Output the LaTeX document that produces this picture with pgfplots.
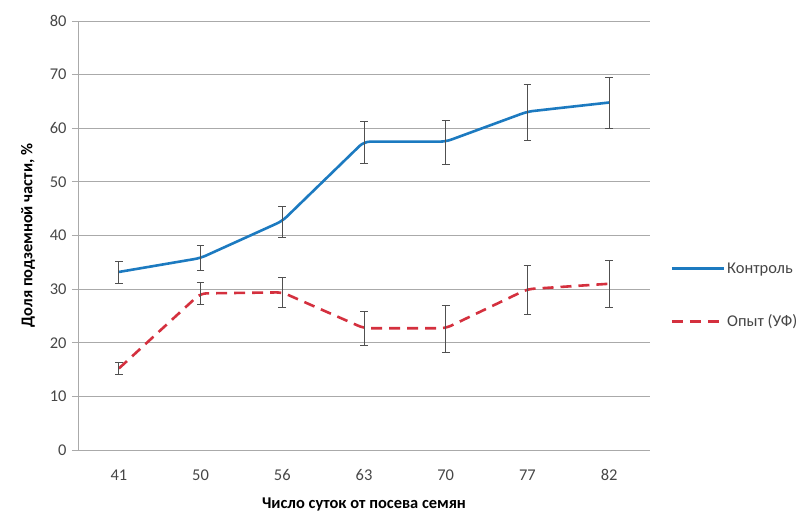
\documentclass[border=0pt]{standalone}
\usepackage{pgfplots}
\pgfplotsset{compat=1.18}
\usepackage{pgfplotstable}
\usepackage{fontspec}
\setmainfont{Carlito}
\definecolor{ctrl}{RGB}{28,122,192}
\definecolor{expc}{RGB}{212,48,62}
\definecolor{txt}{RGB}{70,70,70}
\definecolor{grid}{RGB}{170,170,170}
\definecolor{ebar}{RGB}{80,80,80}
\pgfplotstableread{
x y ep em
0 33.2 1.9 2.2
1 35.8 2.4 2.4
2 42.7 2.8 3.1
3 57.5 3.8 4.0
4 57.5 3.9 4.3
5 63.1 5.1 5.3
6 64.8 4.6 4.8
}\ctrl
\pgfplotstableread{
x y ep em
0 15.2 1.1 1.2
1 29.2 2.0 2.0
2 29.4 2.7 2.8
3 22.7 3.2 3.2
4 22.7 4.2 4.5
5 30.0 4.4 4.8
6 31.0 4.3 4.5
}\expt
\begin{document}
\begin{tikzpicture}
\path[use as bounding box] (0,0) rectangle (806bp,512bp);
\begin{axis}[
  anchor=south west, at={(78bp,62bp)},
  scale only axis, width=572bp, height=429bp,
  xmin=-0.5, xmax=6.5, ymin=0, ymax=80,
  xtick={0,...,6}, xticklabels={41,50,56,63,70,77,82},
  ytick={0,10,...,80},
  xmajorgrids=false, ymajorgrids=true,
  y grid style={grid, line width=0.8bp},
  axis x line*=bottom, axis y line*=left,
  x axis line style={draw=none},
  y axis line style={grid, line width=0.8bp},
  xtick style={draw=none},
  ytick style={grid, line width=0.8bp},
  tick align=outside, major tick length=6bp,
  tick label style={font=\fontsize{16.5}{18}\selectfont, text=txt},
  /pgf/number format/assume math mode=true,
  xticklabel style={yshift=-10bp},
  yticklabel style={xshift=-2bp},
  xlabel={\textbf{Число суток от посева семян}},
  ylabel={\textbf{Доля подземной части, \%}},
  label style={font=\fontsize{16.5}{18}\selectfont, text=black},
  xlabel style={yshift=-10bp},
  ylabel style={yshift=8bp},
  clip=false,
  legend style={at={(1.03,0.36)}, anchor=west, draw=none, fill=none,
    font=\fontsize{16.5}{18}\selectfont, text=txt, row sep=36bp},
  legend cell align=left,
  legend image code/.code={\draw[#1, line width=2.8bp] (0bp,0bp) -- (52bp,0bp);},
]
\addplot[ctrl, line width=2.6bp, rounded corners=6bp, line join=round,
  error bars/.cd, y dir=both, y explicit,
  error bar style={ebar, line width=1bp, sharp corners},
  error mark options={ebar, line width=1bp, rotate=90, mark size=3.8bp}]
  table[x=x, y=y, y error plus=ep, y error minus=em] {\ctrl};
\addlegendentry{Контроль}
\addplot[expc, line width=2.6bp, dash pattern=on 11bp off 7bp, rounded corners=6bp,
  error bars/.cd, y dir=both, y explicit,
  error bar style={ebar, line width=1bp, solid, sharp corners},
  error mark options={ebar, line width=1bp, rotate=90, mark size=3.8bp, solid}]
  table[x=x, y=y, y error plus=ep, y error minus=em] {\expt};
\addlegendentry{Опыт (УФ)}
\end{axis}
\end{tikzpicture}
\end{document}
